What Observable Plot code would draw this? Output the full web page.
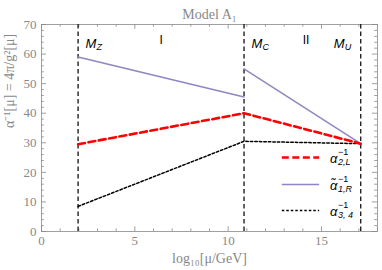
<!DOCTYPE html>
<html><head><meta charset="utf-8">
<script src="https://cdn.jsdelivr.net/npm/d3@7"></script>
<script src="https://cdn.jsdelivr.net/npm/@observablehq/plot@0.6"></script>
<style>body{margin:0;background:#fff;}</style>
</head><body><div id="chart"></div>
<script>
// ---- data ----
const scales = ["MZ", "MC", "MU"];
const scaleX = [1.96, 10.85, 17.1];
const alpha2L = [29.5, 40.0, 29.7];
const alpha1R_I = [59.0, 45.5];
const alpha1R_II = [55.0, 29.7];
const alpha34 = [8.5, 30.5, 29.7];
const xTicks = [0, 5, 10, 15];
const yTicks = [0, 10, 20, 30, 40, 50, 60, 70];
const regionNames = ["I", "II"];

// ---- layout / style ----
const W = 382, H = 270;
const gray = "#888888";
const serif = "Liberation Serif, Times New Roman, serif";
const sans = "Liberation Sans, Arial, sans-serif";

const red = alpha2L.map((v, i) => ({x: scaleX[i], y: v}));
const black = alpha34.map((v, i) => ({x: scaleX[i], y: v}));
const purple1 = alpha1R_I.map((v, i) => ({x: scaleX[i], y: v}));
const purple2 = alpha1R_II.map((v, i) => ({x: scaleX[i + 1], y: v}));

const xMinor = d3.range(0, 19).filter(d => !xTicks.includes(d));
const yMinor = d3.range(0, 71, 2).filter(d => !yTicks.includes(d));

// label placement (styling)
const labY = 63.5;
const scaleLabels = [
  {x: scaleX[0] + 0.4, main: "M", sub: "Z"},
  {x: scaleX[1] + 0.4, main: "M", sub: "C"},
  {x: scaleX[2] - 1.45, main: "M", sub: "U"}
];
const regionLabels = [
  {x: (scaleX[0] + scaleX[1]) / 2, t: regionNames[0]},
  {x: (scaleX[1] + scaleX[2]) / 2 + 0.2, t: regionNames[1]}
];
const legend = [
  {y: 25, stroke: "#ff0000", w: 2.6, dash: "7,3.5", sub: "2,L", tilde: false},
  {y: 15.9, stroke: "#8f86c2", w: 1.5, dash: null, sub: "1,R", tilde: true},
  {y: 7.1, stroke: "#000", w: 1.5, dash: "2.5,2", sub: "3, 4", tilde: false}
];
const lgX1 = 12.9, lgX2 = 14.9, lgTx = 15.45;

const tk = (arr, len, side) => side === "b"
  ? Plot.ruleX(arr, {x: d => d, y1: 0, y2: len, stroke: gray, strokeWidth: 0.8})
  : Plot.ruleX(arr, {x: d => d, y1: 70, y2: 70 - len, stroke: gray, strokeWidth: 0.8});
const tkY = (arr, len, side) => side === "l"
  ? Plot.ruleY(arr, {y: d => d, x1: 0, x2: len, stroke: gray, strokeWidth: 0.8})
  : Plot.ruleY(arr, {y: d => d, x1: 18, x2: 18 - len, stroke: gray, strokeWidth: 0.8});

const chart = Plot.plot({
  width: W, height: H,
  marginLeft: 41, marginRight: 5, marginTop: 24, marginBottom: 39,
  x: {domain: [0, 18]},
  y: {domain: [0, 70]},
  style: {background: "#fff"},
  marks: [
    Plot.frame({stroke: "#a0a0a0", strokeWidth: 1}),
    tk(xTicks, 1.6, "b"), tk(xMinor, 0.9, "b"), tk(xTicks, 1.6, "t"), tk(xMinor, 0.9, "t"),
    tkY(yTicks, 0.27, "l"), tkY(yMinor, 0.15, "l"), tkY(yTicks, 0.27, "r"), tkY(yMinor, 0.15, "r"),
    Plot.axisX({ticks: xTicks, tickSize: 0, tickPadding: 4, fontFamily: serif, fontSize: 13, color: gray, label: null}),
    Plot.axisY({ticks: yTicks, tickSize: 0, tickPadding: 5, fontFamily: serif, fontSize: 13, color: gray, label: null}),
    Plot.ruleX(scaleX, {x: d => d, y1: 0, y2: 70, stroke: "#222", strokeWidth: 1.4, strokeDasharray: "4.5,3"}),
    Plot.line(purple1, {x: "x", y: "y", stroke: "#8f86c2", strokeWidth: 1.5}),
    Plot.line(purple2, {x: "x", y: "y", stroke: "#8f86c2", strokeWidth: 1.5}),
    Plot.line(black, {x: "x", y: "y", stroke: "#000", strokeWidth: 1.5, strokeDasharray: "2.5,2"}),
    Plot.line(red, {x: "x", y: "y", stroke: "#ff0000", strokeWidth: 2.6, strokeDasharray: "7,3.5"}),
    // scale labels
    Plot.text(scaleLabels, {x: "x", y: labY, text: "main", textAnchor: "start", fontFamily: sans, fontStyle: "italic", fontSize: 13, fill: "#000"}),
    Plot.text(scaleLabels, {x: "x", y: labY, text: "sub", dx: 11, dy: 3, textAnchor: "start", fontFamily: sans, fontStyle: "italic", fontSize: 9, fill: "#000"}),
    Plot.text(regionLabels, {x: "x", y: labY + 1.2, text: "t", fontFamily: sans, fontSize: 12, fill: "#000"}),
    // legend
    ...legend.map(l => Plot.ruleY([l.y], {y: d => d, x1: lgX1, x2: lgX2, stroke: l.stroke, strokeWidth: l.w, strokeDasharray: l.dash})),
    Plot.text(legend, {x: lgTx, y: "y", text: d => d.tilde ? "α\u0303" : "α", textAnchor: "start", fontFamily: sans, fontStyle: "italic", fontSize: 13, fill: "#000", dy: 1}),
    Plot.text(legend, {x: lgTx, y: "y", text: () => "−1", dx: 8, dy: -5, textAnchor: "start", fontFamily: sans, fontSize: 9, fill: "#000"}),
    Plot.text(legend, {x: lgTx, y: "y", text: "sub", dx: 8, dy: 5, textAnchor: "start", fontFamily: sans, fontStyle: "italic", fontSize: 9, fill: "#000"}),
    // title + axis labels
    Plot.text(["Model A₁"], {frameAnchor: "top", dy: -15, fontFamily: serif, fontSize: 14, fill: gray}),
    Plot.text(["log₁₀[μ/GeV]"], {frameAnchor: "bottom", dy: 31, fontFamily: serif, fontSize: 14, fill: gray}),
    Plot.text(["α⁻¹[μ] = 4π/g²[μ]"], {frameAnchor: "left", dx: -32, rotate: -90, fontFamily: serif, fontSize: 14, fill: gray})
  ]
});
document.getElementById("chart").appendChild(chart);
</script>
</body></html>
